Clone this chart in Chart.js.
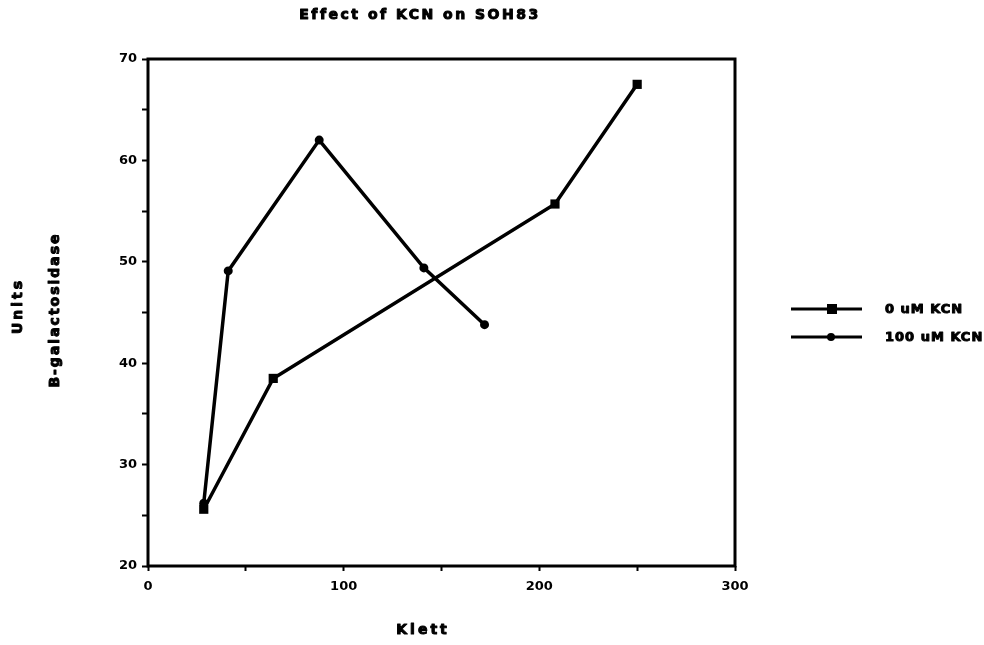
<!DOCTYPE html>
<html>
<head>
<meta charset="utf-8">
<script src="https://cdn.jsdelivr.net/npm/chart.js@4"></script>
<style>
  html, body { margin: 0; padding: 0; background: #fff; }
  #wrap { width: 984px; height: 645px; }
</style>
</head>
<body>
<div id="wrap"><canvas id="myChart" width="984" height="645"></canvas></div>
<script>
const title = 'Effect of KCN on SOH83';
const xTitle = 'Klett';
const yTitleLines = ['Units', 'B-galactosidase'];
const seriesNames = ['0 uM KCN', '100 uM KCN'];

// 0 uM KCN
const klett0 = [28.5, 64, 208, 250];
const units0 = [25.6, 38.5, 55.7, 67.5];
// 100 uM KCN
const klett100 = [28.5, 41, 87.5, 141, 172];
const units100 = [26.2, 49.1, 62.0, 49.4, 43.8];

const xTicks = [0, 100, 200, 300];
const yTicks = [20, 30, 40, 50, 60, 70];

const FONT = 'DejaVu Sans';
const ink = '#000';

const toPts = (xs, ys) => xs.map((x, i) => ({ x, y: ys[i] }));

// heavy text: fill plus a thin stroke, like the old plotter lettering
function label(ctx, text, x, y, size, spacing) {
  ctx.font = 'bold ' + size + 'px ' + FONT;
  ctx.letterSpacing = spacing + 'px';
  ctx.lineWidth = 1;
  ctx.lineJoin = 'round';
  ctx.fillText(text, x, y);
  ctx.strokeText(text, x, y);
}

const frame = {
  id: 'frame',
  beforeInit(chart) {
    chart.ctx.letterSpacing = '1.5px';
  },
  afterDraw(chart) {
    const { ctx, chartArea: a } = chart;
    ctx.save();
    ctx.strokeStyle = ink;
    ctx.lineWidth = 3;
    ctx.strokeRect(a.left, a.top, a.right - a.left, a.bottom - a.top);

    ctx.fillStyle = ink;
    ctx.textAlign = 'center';
    ctx.textBaseline = 'middle';
    label(ctx, title, 420, 15, 14, 2.5);
    label(ctx, xTitle, 423, 630, 14, 3);

    // y title, two rotated lines
    ctx.save();
    ctx.translate(18, 306);
    ctx.rotate(-Math.PI / 2);
    label(ctx, yTitleLines[0], 0, 0, 14, 3);
    label(ctx, yTitleLines[1], -4, 37, 14, 2);
    ctx.restore();

    // legend
    const styles = ['rect', 'circle'];
    const rows = [309, 337];
    ctx.textAlign = 'left';
    seriesNames.forEach((name, i) => {
      const y = rows[i];
      ctx.lineWidth = 3;
      ctx.beginPath();
      ctx.moveTo(791, y);
      ctx.lineTo(862, y);
      ctx.stroke();
      if (styles[i] === 'rect') {
        ctx.fillRect(827, y - 5, 10, 10);
      } else {
        ctx.beginPath();
        ctx.arc(831, y, 4, 0, Math.PI * 2);
        ctx.fill();
      }
      label(ctx, name, 885, y + 1, 13, 1);
    });
    ctx.restore();
  }
};

new Chart(document.getElementById('myChart'), {
  type: 'line',
  data: {
    datasets: [
      {
        label: seriesNames[0],
        data: toPts(klett0, units0),
        borderColor: ink,
        backgroundColor: ink,
        borderWidth: 3.5,
        pointStyle: 'rect',
        pointRadius: 6.5,
        pointBorderWidth: 0,
        tension: 0
      },
      {
        label: seriesNames[1],
        data: toPts(klett100, units100),
        borderColor: ink,
        backgroundColor: ink,
        borderWidth: 3.5,
        pointStyle: 'circle',
        pointRadius: 4.5,
        pointBorderWidth: 0,
        tension: 0
      }
    ]
  },
  options: {
    responsive: false,
    animation: false,
    layout: { padding: { top: 59, right: 249, left: 0, bottom: 0 } },
    plugins: {
      legend: { display: false },
      tooltip: { enabled: false }
    },
    scales: {
      x: {
        type: 'linear',
        min: xTicks[0],
        max: xTicks[xTicks.length - 1],
        afterFit: s => { s.height = 79; },
        afterBuildTicks: s => {
          s.ticks = [0, 50, 100, 150, 200, 250, 300].map(v => ({ value: v }));
        },
        ticks: {
          color: ink,
          padding: 8,
          maxRotation: 0,
          font: { family: FONT, size: 13, weight: 'bold' },
          callback: v => (xTicks.includes(v) ? v : '')
        },
        grid: {
          drawOnChartArea: false,
          drawTicks: true,
          tickLength: 5,
          tickWidth: 2,
          color: ink
        },
        border: { display: false }
      },
      y: {
        type: 'linear',
        min: yTicks[0],
        max: yTicks[yTicks.length - 1],
        afterFit: s => { s.width = 148; },
        afterBuildTicks: s => {
          const t = [];
          for (let v = 20; v <= 70; v += 5) t.push({ value: v });
          s.ticks = t;
        },
        ticks: {
          color: ink,
          padding: 5,
          font: { family: FONT, size: 13, weight: 'bold' },
          callback: v => (yTicks.includes(v) ? v : '')
        },
        grid: {
          drawOnChartArea: false,
          drawTicks: true,
          tickLength: 6,
          tickWidth: 2,
          color: ink
        },
        border: { display: false }
      }
    }
  },
  plugins: [frame]
});
</script>
</body>
</html>
